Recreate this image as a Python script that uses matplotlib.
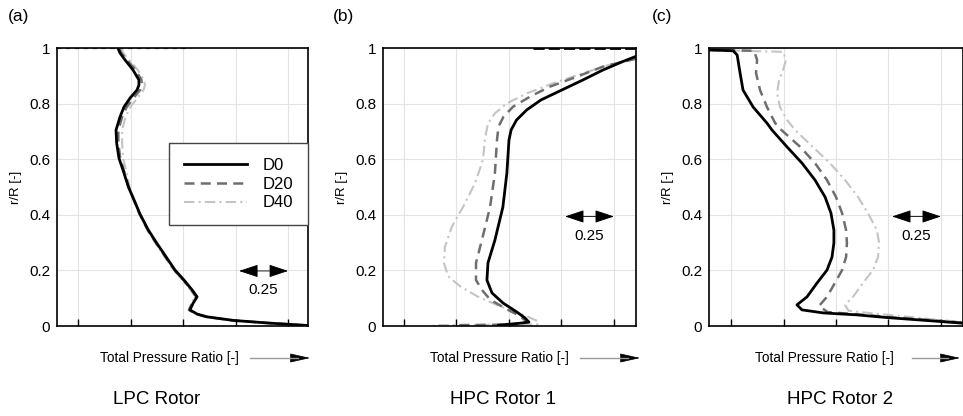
import matplotlib
matplotlib.use("Agg")
import matplotlib.pyplot as plt
from matplotlib.patches import FancyArrowPatch

plt.rcParams["font.family"] = ["Liberation Sans", "DejaVu Sans"]

series = ["D0", "D20", "D40"]
panel_tags = ["(a)", "(b)", "(c)"]
titles = ["LPC Rotor", "HPC Rotor 1", "HPC Rotor 2"]
xlabel = "Total Pressure Ratio [-]"
ylabel = "r/R [-]"
ytick_vals = [0, 0.2, 0.4, 0.6, 0.8, 1.0]
ytick_labels = ["0", "0.2", "0.4", "0.6", "0.8", "1"]
xtick_vals = [1.0, 1.25, 1.5, 1.75, 2.0]
scale_label = "0.25"

# ---- LPC rotor ----
a_r = [1.0, 0.982, 0.957, 0.921, 0.885, 0.867, 0.849, 0.820, 0.788, 0.752, 0.705, 0.658,
       0.604, 0.55, 0.5, 0.453, 0.403, 0.345, 0.298, 0.249, 0.201, 0.165, 0.13, 0.105,
       0.082, 0.058, 0.043, 0.033, 0.020, 0.011, 0.002]
a_d0 = [1.190, 1.200, 1.224, 1.262, 1.290, 1.290, 1.281, 1.248, 1.219, 1.200, 1.181, 1.184,
        1.195, 1.219, 1.240, 1.267, 1.295, 1.335, 1.375, 1.419, 1.462, 1.505, 1.543, 1.567,
        1.548, 1.533, 1.567, 1.614, 1.741, 1.900, 2.090]
a_d20 = [1.195, 1.206, 1.233, 1.274, 1.302, 1.304, 1.296, 1.264, 1.232, 1.210, 1.192, 1.192,
         1.201, 1.222, 1.241, 1.266, 1.293, 1.332, 1.372, 1.416, 1.459, 1.502, 1.540, 1.563,
         1.544, 1.529, 1.563, 1.610, 1.738, 1.898, 2.090]
a_d40 = [1.205, 1.215, 1.242, 1.285, 1.313, 1.319, 1.312, 1.283, 1.250, 1.226, 1.210, 1.210,
         1.215, 1.232, 1.246, 1.268, 1.292, 1.330, 1.369, 1.412, 1.455, 1.497, 1.535, 1.558,
         1.540, 1.526, 1.560, 1.607, 1.735, 1.896, 2.090]
a_wall_x = [0.90, 1.54]
a_wall_r = [0.999, 0.999]

# ---- HPC rotor 1 ----
b_r0 = [0.970, 0.950, 0.921, 0.885, 0.849, 0.813, 0.777, 0.741, 0.705, 0.669, 0.55, 0.428,
        0.309, 0.227, 0.165, 0.119, 0.083, 0.05, 0.029, 0.014, 0.010, 0.003]
b_d0 = [2.105, 2.038, 1.948, 1.852, 1.752, 1.652, 1.584, 1.536, 1.510, 1.500, 1.490, 1.471,
        1.433, 1.400, 1.395, 1.419, 1.471, 1.538, 1.576, 1.595, 1.552, 1.450]
b_r20 = [0.962, 0.933, 0.897, 0.861, 0.825, 0.789, 0.753, 0.717, 0.669, 0.55, 0.428, 0.309,
         0.227, 0.165, 0.13, 0.095, 0.06, 0.036, 0.014, 0.005, 0.003]
b_d20 = [2.105, 1.948, 1.824, 1.695, 1.600, 1.520, 1.474, 1.450, 1.443, 1.433, 1.410, 1.371,
         1.343, 1.343, 1.371, 1.410, 1.490, 1.552, 1.586, 1.520, 1.250]
b_r40 = [0.960, 0.940, 0.909, 0.873, 0.837, 0.801, 0.765, 0.729, 0.675, 0.597, 0.513, 0.428,
         0.357, 0.285, 0.227, 0.179, 0.143, 0.107, 0.071, 0.041, 0.017, 0.006, 0.003]
b_d40 = [2.105, 1.980, 1.852, 1.710, 1.586, 1.490, 1.433, 1.400, 1.386, 1.376, 1.338, 1.281,
         1.228, 1.195, 1.190, 1.210, 1.267, 1.348, 1.457, 1.567, 1.638, 1.640, 1.140]
b_wall_x = [1.614, 2.105]
b_wall_r = [0.999, 0.999]

# ---- HPC rotor 2 ----
c_r0 = [0.993, 0.990, 0.975, 0.957, 0.910, 0.849, 0.788, 0.730, 0.705, 0.644, 0.586, 0.525,
        0.464, 0.406, 0.345, 0.299, 0.248, 0.201, 0.155, 0.105, 0.076, 0.058, 0.047, 0.040,
        0.030, 0.020, 0.010]
c_d0 = [0.895, 1.010, 1.029, 1.033, 1.043, 1.057, 1.105, 1.171, 1.195, 1.267, 1.338, 1.400,
        1.448, 1.476, 1.490, 1.490, 1.481, 1.457, 1.410, 1.362, 1.314, 1.338, 1.440, 1.600,
        1.750, 1.930, 2.105]
c_r20 = [0.993, 0.990, 0.957, 0.910, 0.849, 0.788, 0.730, 0.705, 0.644, 0.586, 0.525, 0.464,
         0.406, 0.345, 0.299, 0.248, 0.201, 0.155, 0.105, 0.072, 0.050, 0.042, 0.032, 0.022,
         0.012]
c_d20 = [0.895, 1.110, 1.124, 1.119, 1.138, 1.171, 1.210, 1.240, 1.330, 1.400, 1.457, 1.500,
         1.529, 1.548, 1.552, 1.548, 1.529, 1.495, 1.457, 1.419, 1.460, 1.600, 1.750, 1.930,
         2.105]
c_r40 = [0.993, 0.986, 0.957, 0.921, 0.885, 0.838, 0.788, 0.741, 0.705, 0.644, 0.586, 0.525,
         0.464, 0.406, 0.345, 0.299, 0.248, 0.201, 0.155, 0.105, 0.076, 0.055, 0.045, 0.035,
         0.024, 0.014]
c_d40 = [0.895, 1.248, 1.262, 1.248, 1.229, 1.219, 1.233, 1.267, 1.305, 1.390, 1.471, 1.543,
         1.605, 1.652, 1.695, 1.705, 1.700, 1.676, 1.629, 1.581, 1.543, 1.560, 1.680, 1.820,
         1.960, 2.105]

scale_x = [1.767, 2.0]
scale_r = [0.198, 0.394, 0.394]

styles = {
    "D0": dict(color="black", lw=2.0, ls="-"),
    "D20": dict(color="#6e6e6e", lw=1.8, ls=(0, (4, 2.5))),
    "D40": dict(color="#c4c4c4", lw=1.5, ls=(0, (5, 2, 1, 2))),
}

panels = [
    [(a_d0, a_r), (a_d20, a_r), (a_d40, a_r)],
    [(b_d0, b_r0), (b_d20, b_r20), (b_d40, b_r40)],
    [(c_d0, c_r0), (c_d20, c_r20), (c_d40, c_r40)],
]
xlims = [(0.90, 2.095), (0.90, 2.105), (0.895, 2.105)]
lefts = [57 / 963, 383 / 963, 709 / 963]
widths = [251 / 963, 253 / 963, 254 / 963]

fig = plt.figure(figsize=(9.63, 4.16), dpi=100)

for i in range(3):
    ax = fig.add_axes([lefts[i], 90 / 416, widths[i], 278 / 416])
    # draw light lines first so the solid one stays on top
    for name, (xs, rs) in reversed(list(zip(series, panels[i]))):
        ax.plot(xs, rs, label=name, **styles[name])
    if i == 0:
        ax.plot(a_wall_x, a_wall_r, color="#555555", lw=1.6, ls=(0, (2, 2)))
    if i == 1:
        ax.plot(b_wall_x, b_wall_r, color="black", lw=2.0, ls=(0, (4, 1.5)))
    ax.set_xlim(*xlims[i])
    ax.set_ylim(0, 1)
    ax.set_xticks(xtick_vals)
    ax.set_xticklabels([])
    ax.set_yticks(ytick_vals)
    ax.set_yticklabels(ytick_labels, fontsize=11)
    ax.tick_params(axis="x", direction="in", length=5, width=1.0)
    ax.tick_params(axis="y", length=0, pad=5)
    ax.grid(True, color="#e3e3e3", lw=0.8)
    for s in ax.spines.values():
        s.set_linewidth(1.2)
    ax.set_ylabel(ylabel, fontsize=9.5, labelpad=5)

    # scale arrow
    ax.annotate("", xy=(scale_x[1], scale_r[i]), xytext=(scale_x[0], scale_r[i]),
                arrowprops=dict(arrowstyle="<|-|>,head_length=0.6,head_width=0.2",
                                color="black", lw=0.6, mutation_scale=20,
                                shrinkA=0, shrinkB=0))
    ax.text(sum(scale_x) / 2, scale_r[i] - 0.07, scale_label, ha="center",
            va="center", fontsize=11)

    if i == 0:
        h, l = ax.get_legend_handles_labels()
        ax.legend(h[::-1], l[::-1], loc="upper right", bbox_to_anchor=(1.0, 0.658),
                  borderaxespad=0, fancybox=False, edgecolor="#444444", fontsize=12,
                  handlelength=3.8, handletextpad=0.9, borderpad=0.9,
                  labelspacing=0.22, framealpha=1)

# panel tags, axis captions and titles
tag_x = [8, 333, 652]
cap_x = [100, 430, 755]
arr_x = [(250, 310), (580, 640), (912, 960)]
title_x = [157, 503, 840]
cap_y = 1 - 358 / 416
for i in range(3):
    fig.text(tag_x[i] / 963, 1 - 17 / 416, panel_tags[i], fontsize=12.5, va="center")
    fig.text(cap_x[i] / 963, cap_y, xlabel, fontsize=9.8, va="center")
    fig.add_artist(plt.Line2D([arr_x[i][0] / 963, (arr_x[i][1] - 12) / 963],
                              [cap_y, cap_y], color="#999999", lw=1.0))
    fig.patches.append(FancyArrowPatch(
        ((arr_x[i][1] - 18) / 963, cap_y), (arr_x[i][1] / 963, cap_y),
        transform=fig.transFigure, arrowstyle="-|>,head_length=0.8,head_width=0.18",
        mutation_scale=16, color="black", lw=0.5, shrinkA=0, shrinkB=0))
    fig.text(title_x[i] / 963, 1 - 400 / 416, titles[i], fontsize=13.5, ha="center",
             va="center")

fig.savefig("out.png", dpi=100)
